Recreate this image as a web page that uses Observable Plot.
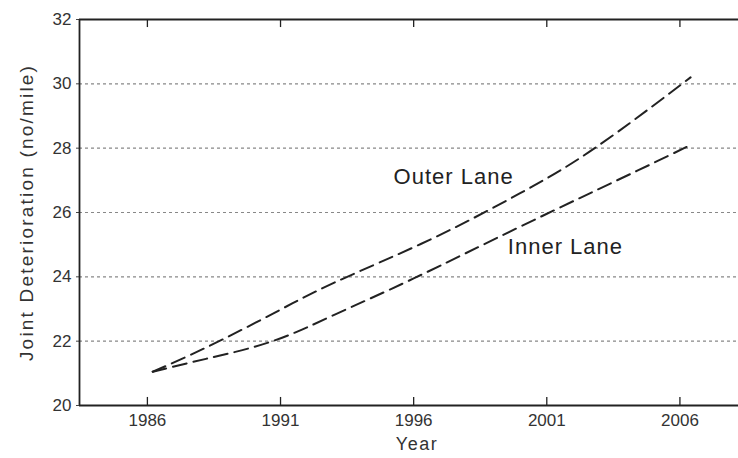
<!DOCTYPE html>
<html>
<head>
<meta charset="utf-8">
<script src="https://cdn.jsdelivr.net/npm/d3@7"></script>
<script src="https://cdn.jsdelivr.net/npm/@observablehq/plot@0.6"></script>
<style>
  html, body { margin: 0; padding: 0; background: #fff; }
  svg { display: block; }
</style>
</head>
<body>
<div id="chart"></div>
<script>
const xTicks = [1986, 1991, 1996, 2001, 2006];
const yTicks = [20, 22, 24, 26, 28, 30, 32];
const gridValues = [22, 24, 26, 28, 30];

const outerYears = [1986.2, 1988.2, 1990.7, 1993.1, 1996.6, 2000.0, 2002.8, 2006.4];
const outerValues = [21.05, 21.8, 22.85, 23.85, 25.15, 26.6, 28.0, 30.2];
const innerYears = [1986.2, 1988.2, 1990.7, 1993.1, 1996.0, 2000.1, 2004.4, 2006.4];
const innerValues = [21.05, 21.45, 22.0, 22.85, 23.95, 25.6, 27.3, 28.1];

const seriesNames = ["Outer Lane", "Inner Lane"];
const labelYears = [1997.5, 2001.7];
const labelValues = [27.09, 24.94];

const yTitle = "Joint Deterioration (no/mile)";
const xTitle = "Year";

const rows = [
  ...outerYears.map((x, i) => ({series: seriesNames[0], x, y: outerValues[i]})),
  ...innerYears.map((x, i) => ({series: seriesNames[1], x, y: innerValues[i]}))
];
const labels = seriesNames.map((name, i) => ({name, x: labelYears[i], y: labelValues[i]}));

const xDomain = [1983.45, 2008.2];
const yDomain = [20, 32];

const chart = Plot.plot({
  width: 738,
  height: 458,
  marginLeft: 79,
  marginRight: 0,
  marginTop: 19,
  marginBottom: 53,
  style: {fontFamily: "Liberation Sans", fontSize: "17px", color: "#222", background: "#fff"},
  x: {domain: xDomain, label: null},
  y: {domain: yDomain, label: null},
  marks: [
    Plot.ruleY(gridValues, {stroke: "#888", strokeWidth: 1.2, strokeDasharray: "3,3"}),
    Plot.axisX({ticks: xTicks, tickFormat: d => String(d), tickSize: 0, tickPadding: 8, fontSize: 17, fill: "#333"}),
    Plot.axisY({ticks: yTicks, tickSize: 3, tickPadding: 5, fontSize: 17, fill: "#333", stroke: "#444"}),
    Plot.ruleX(xTicks, {y1: 20, y2: 20.25, stroke: "#222", strokeWidth: 1.3}),
    Plot.ruleX(xTicks, {y1: 31.75, y2: 32, stroke: "#222", strokeWidth: 1.3}),
    Plot.ruleX([xDomain[0]], {stroke: "#222", strokeWidth: 1.8}),
    Plot.ruleY([yDomain[0], yDomain[1]], {stroke: "#222", strokeWidth: 1.8}),
    Plot.line(rows, {x: "x", y: "y", z: "series", curve: "natural", stroke: "#222", strokeWidth: 2, strokeDasharray: "14,7"}),
    Plot.text(labels, {x: "x", y: "y", text: "name", fontSize: 22, fill: "#222"}),
    Plot.text([yTitle], {frameAnchor: "left", textAnchor: "middle", dx: -53, rotate: -90, fontSize: 19, fill: "#333"}),
    Plot.text([xTitle], {frameAnchor: "bottom", textAnchor: "middle", dy: 44, dx: 8, fontSize: 18, fill: "#333"})
  ]
});
const spacing = new Map([[yTitle, "2.2px"], [xTitle, "1.5px"], [seriesNames[0], "1px"], [seriesNames[1], "1px"]]);
chart.querySelectorAll("text").forEach(t => {
  const s = spacing.get(t.textContent);
  if (s) t.setAttribute("letter-spacing", s);
});
document.getElementById("chart").appendChild(chart);
</script>
</body>
</html>
